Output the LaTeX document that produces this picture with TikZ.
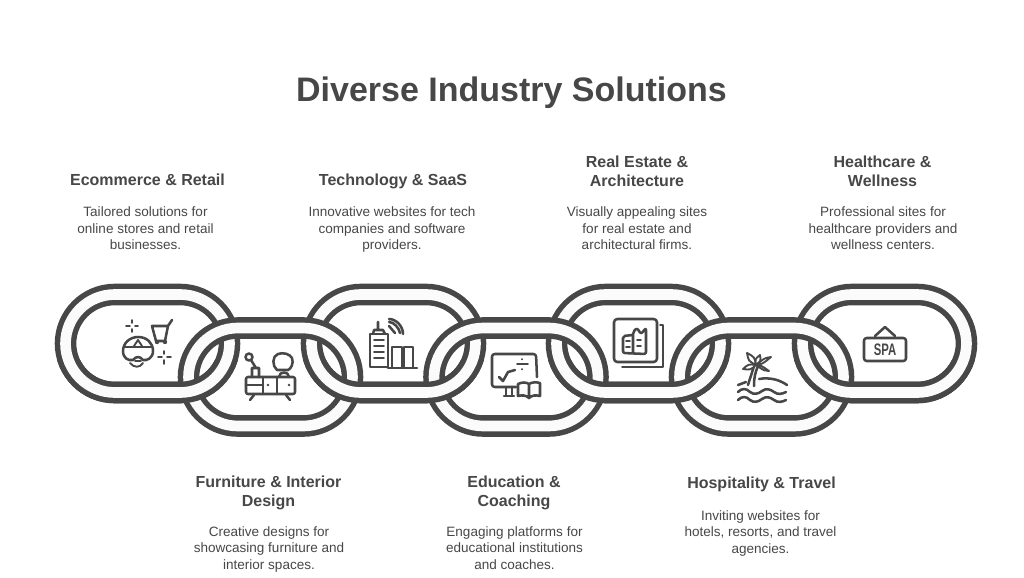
\documentclass[tikz,border=0pt]{standalone}
\usepackage{fontspec}
\setmainfont{Liberation Sans}
\definecolor{ink}{HTML}{474747}
\definecolor{band}{HTML}{FBFBFB}
\tikzset{
  x=0.75pt,y=-0.75pt,
  headtext/.style={font=\fontsize{12pt}{14.6pt}\selectfont\bfseries,text=ink,align=center,inner sep=0pt,text depth=3pt},
  bodytext/.style={font=\fontsize{10.15pt}{12.3pt}\selectfont,text=ink,align=center,inner sep=0pt,text depth=2.5pt},
  titletext/.style={font=\fontsize{25.5pt}{30pt}\selectfont\bfseries,text=ink,inner sep=0pt},
  icon/.style={draw=ink,line width=1.4pt,line cap=round,line join=round},
  iconbold/.style={draw=ink,line width=1.9pt,line cap=round,line join=round},
}
\newcommand{\linkshape}[2]{% #1 left outer x, #2 top outer y
  \draw[ink,line width=16.2pt,rounded corners=37pt] (#1+10.5,#2+10.5) rectangle (#1+174.5,#2+108.5);
  \draw[band,line width=8pt,rounded corners=37pt] (#1+10.5,#2+10.5) rectangle (#1+174.5,#2+108.5);
}
\newcommand{\leafshape}[4]{% tip x, tip y, normal dx, normal dy from palm centre (106,95)
  \draw[icon,fill=white] (106,95) .. controls ({(106+#1)/2+#3},{(95+#2)/2+#4}) and ({(106+#1)/2+#3},{(95+#2)/2+#4}) .. (#1,#2) .. controls ({(106+#1)/2-#3},{(95+#2)/2-#4}) and ({(106+#1)/2-#3},{(95+#2)/2-#4}) .. (106,95);
}
\begin{document}
\begin{tikzpicture}
\useasboundingbox (0,0) rectangle (1024,578);
\fill[white] (0,0) rectangle (1024,578);
\node[titletext] (title) at (511.5,93) {Diverse Industry Solutions};
% upper links
\foreach \x in {55,301,546,792} {\linkshape{\x}{284}}
% lower links
\foreach \x in {178,423.5,669} {\linkshape{\x}{317.5}}
% upper bottoms over lower links
\begin{scope}
\clip (0,360) rectangle (1024,420);
\foreach \x in {55,301,546,792} {\linkshape{\x}{284}}
\end{scope}
% icon 1: ecommerce
\begin{scope}[shift={(40,270)}]
 \draw[icon] (86,56) -- (90,56) (92,50) -- (92,53) (92,59) -- (92,62) (95,56) -- (98,56);
 \draw[iconbold] (112,56) -- (128,56) -- (125,71) -- (116,71) -- cycle (128,56) -- (132,50);
 \fill[ink] (117,72) circle (2.2) (125,72) circle (2.2);
 \draw[iconbold] (83,81) .. controls (83,73) and (90,67) .. (98,67) .. controls (107,67) and (113,73) .. (113,81) .. controls (113,88) and (107,91) .. (103,90) .. controls (100,86) and (96,86) .. (93,90) .. controls (88,91) and (83,88) .. (83,81) -- cycle;
 \draw[icon] (85,77) -- (111,77) (94,76) -- (98,70) -- (102,76);
 \draw[icon] (90,93) .. controls (94,98) and (100,98) .. (103,93) (95,91) -- (101,91);
 \draw[icon] (118,87) -- (122,87) (124,81) -- (124,84) (124,90) -- (124,94) (127,87) -- (131,87);
\end{scope}
% icon 2: furniture
\begin{scope}[shift={(40,270)}]
 \draw[iconbold,rounded corners=1.5pt] (206,107) rectangle (255,124);
 \draw[iconbold] (206,115) -- (223,115) (223,107) -- (223,124) (237,107) -- (237,124);
 \draw[iconbold] (214,125) -- (210,130) (246,125) -- (250,130);
 \draw[iconbold] (212,107) -- (212,98) -- (219,98) -- (219,107) (216,98) -- (211,90);
 \draw[iconbold] (209,87) circle (3.5);
 \draw[iconbold] (239,107) .. controls (239,101) and (249,101) .. (249,107);
 \draw[iconbold] (237,100) .. controls (232,96) and (232,86) .. (238,84) .. controls (243,82) and (250,84) .. (252,88) .. controls (254,93) and (251,99) .. (248,100) -- cycle;
 \fill[ink] (228,115) circle (1.3) (249,115) circle (1.3);
\end{scope}
% icon 3: technology
\begin{scope}[shift={(340,270)}]
 \draw[iconbold] (30,64) rectangle (48,97);
 \draw[icon] (34,70) -- (44,70) (34,76) -- (44,76) (34,82) -- (44,82) (34,88) -- (44,88);
 \draw[iconbold] (33,64) -- (34,60) -- (43,60) -- (45,64) (38,60) -- (38,52);
 \draw[iconbold] (52,97) -- (52,77) -- (62,77) -- (62,97) (64,97) -- (64,77) -- (73,77) -- (73,97);
 \draw[iconbold] (48,98) -- (77,98);
 \draw[iconbold] (49,56) -- (55,63) (49,52) .. controls (54,52) and (59,58) .. (60,63) (49,49) .. controls (56,49) and (63,56) .. (63,64);
\end{scope}
% icon 4: education
\begin{scope}[shift={(340,270)}]
 \draw[iconbold,rounded corners=2pt] (176,117) -- (152,117) -- (152,84) -- (196,84) -- (197,107);
 \draw[iconbold] (166,117) -- (166,126) (172,117) -- (172,126) (164,126) -- (174,126);
 \draw[iconbold] (159,107) -- (163,111) -- (168,102) -- (175,100);
 \draw[icon] (177,94) -- (188,94) (182,89) -- (182,89.5) (182,99) -- (182,99.5);
 \draw[iconbold] (178,114) .. controls (182,112) and (186,112) .. (189,114) .. controls (192,112) and (196,112) .. (200,113) -- (200,126) .. controls (196,125) and (192,125) .. (189,128) .. controls (186,125) and (182,125) .. (178,126) -- cycle (189,114) -- (189,128);
\end{scope}
% icon 5: real estate
\begin{scope}[shift={(340,270)}]
 \draw[iconbold,rounded corners=2.5pt] (274,49) rectangle (317,92);
 \draw[icon] (320,55) -- (323,55) -- (323,97) -- (282,97);
 \draw[iconbold,rounded corners=1.5pt] (293,65) -- (283,66) -- (283,83) -- (306,84) -- (306,58) -- (301,64) -- (297,58) -- (293,62) -- (293,83);
 \draw[icon] (286,71) -- (290,71) (286,77) -- (290,77) (297,70) -- (301,70) (297,76) -- (301,76);
\end{scope}
% icon 6: hospitality
\begin{scope}[shift={(650,270)}]
 \draw[iconbold] (98,115) .. controls (100,108) and (102,103) .. (104,96) (104,116) .. controls (104,108) and (105,103) .. (108,96);
 \leafshape{97}{83}{-3}{2}
 \leafshape{110}{85}{3}{1}
 \leafshape{121}{87}{1}{-3}
 \leafshape{119}{101}{2}{3}
 \leafshape{93}{99}{-1}{-3}
 \draw[iconbold] (88,115) -- (96,112) (109,109) .. controls (120,107) and (130,110) .. (137,115);
 \foreach \y in {122,130} {
  \draw[iconbold] (88,\y) .. controls (92,{\y-4}) and (96,{\y-4}) .. (100,\y) .. controls (104,{\y+3}) and (108,{\y+2}) .. (112,{\y-1}) .. controls (116,{\y-4}) and (120,{\y-3}) .. (124,\y) .. controls (128,{\y+3}) and (132,{\y+2}) .. (136,\y);
 }
\end{scope}
% icon 7: spa
\begin{scope}[shift={(650,270)}]
 \draw[iconbold,rounded corners=2pt] (214,68) rectangle (256,91);
 \draw[iconbold] (225,66) -- (235,57) -- (245,66);
 \node[inner sep=0pt,text=ink,font=\fontsize{12.5pt}{12.5pt}\selectfont\bfseries,xscale=0.68,transform shape] (spa) at (235,80) {SPA};
\end{scope}
% labels
\node[headtext] (h1) at (147.5,181.5) {Ecommerce \& Retail};
\node[bodytext] (b1) at (145.5,230) {Tailored solutions for\\online stores and retail\\businesses.};
\node[headtext] (h2) at (393,181.5) {Technology \& SaaS};
\node[bodytext] (b2) at (392,230) {Innovative websites for tech\\companies and software\\providers.};
\node[headtext] (h3) at (637,173) {Real Estate \&\\Architecture};
\node[bodytext] (b3) at (637,230) {Visually appealing sites\\for real estate and\\architectural firms.};
\node[headtext] (h4) at (882.5,173) {Healthcare \&\\Wellness};
\node[bodytext] (b4) at (883,230) {Professional sites for\\healthcare providers and\\wellness centers.};
\node[headtext] (h5) at (268.5,493) {Furniture \& Interior\\Design};
\node[bodytext] (b5) at (269,549.5) {Creative designs for\\showcasing furniture and\\interior spaces.};
\node[headtext] (h6) at (514,493) {Education \&\\Coaching};
\node[bodytext] (b6) at (514.5,549.5) {Engaging platforms for\\educational institutions\\and coaches.};
\node[headtext] (h7) at (761.5,485) {Hospitality \& Travel};
\node[bodytext] (b7) at (760.5,533.5) {Inviting websites for\\hotels, resorts, and travel\\agencies.};
\end{tikzpicture}
\end{document}
